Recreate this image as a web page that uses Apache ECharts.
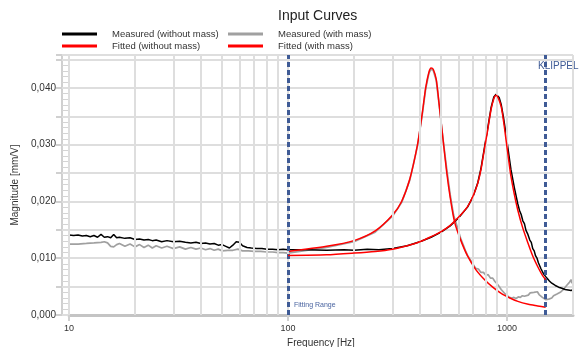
<!DOCTYPE html>
<html>
<head>
<meta charset="utf-8">
<script src="https://cdn.jsdelivr.net/npm/echarts@6/dist/echarts.min.js"></script>
<style>
  html, body { margin: 0; padding: 0; background: #fff; }
  #chart { width: 580px; height: 347px; }
</style>
</head>
<body>
<div id="chart"></div>
<script>
// values (mm/V over Hz)
const blackFreq = [
  10, 10.5, 11, 11.5, 12, 12.5, 13, 13.5, 14, 14.5, 15, 15.5, 16, 16.5, 17, 18, 19, 20, 21, 22,
  23, 24, 25, 26.5, 28, 30, 32, 34, 36, 38, 40, 42, 44, 46, 48, 50, 52, 54, 56, 58,
  60, 62, 65, 68, 72, 76, 80, 85, 90, 95,
  100, 120, 150, 180, 200, 230, 260, 300, 350, 400, 450, 500, 550, 600, 660, 700, 735, 760, 787, 815,
  845, 870, 891, 905, 920, 940, 965, 989, 1015, 1042, 1080,
  1119, 1140, 1160, 1180, 1200, 1220, 1245, 1270, 1290, 1310, 1330, 1350, 1370, 1390, 1410, 1430, 1450, 1470, 1500, 1520,
  1540, 1560, 1580, 1600, 1630, 1660, 1690, 1720, 1750, 1780, 1810, 1840, 1870, 1900, 1930, 1960, 2000
]
const blackVal = [
  .0141, .0140, .0141, .0139, .0140, .0138, .0140, .0137, .0142, .0137, .0138, .0136, .0142, .0136, .0137, .0135, .0136, .0133, .0134, .0132,
  .0133, .0131, .0132, .0129, .0131, .0129, .0130, .0128, .0127, .0128, .0126, .0127, .0125, .0126, .0123, .0124, .0121, .0118, .0123, .0129,
  .0128, .0122, .0119, .0118, .0117, .0117, .0116, .0116, .0115, .0116,
  .0115, .0115, .0114, .0115, .0114, .0116, .0115, .0117, .0122, .0129, .0137, .0146, .0157, .0171, .0190, .0209, .0233, .0258, .0293, .0328,
  .0365, .0384, .0389, .0388, .0383, .0371, .0346, .0318, .0287, .0256, .0224,
  .0196, .0184, .0177, .0166, .0161, .0149, .0142, .0132, .0128, .0117, .0113, .0104, .0100, .0092, .0089, .0081, .0080, .0072, .0070, .0065,
  .0064, .0060, .0060, .0056, .0057, .0052, .0052, .0049, .0050, .0047, .0049, .0045, .0048, .0044, .0047, .0043, .0045
]

const grayFreq = [
  10, 11, 12, 13, 14, 14.5, 15, 15.5, 16, 16.5, 17, 18, 19, 20, 21, 22, 23, 24, 25, 26.5,
  28, 30, 32, 34, 36, 38, 40, 42, 44, 46, 48, 50, 53, 56, 59, 62, 66, 70, 75, 80, 85, 90, 95,
  100, 150, 200, 250, 300, 330, 360, 390, 410, 425, 440, 450, 460, 475, 490, 510,
  530, 550, 570, 585, 600, 615, 630, 645, 660, 680, 700, 720, 740, 760, 780, 800, 820, 840, 860, 880,
  900, 920, 940, 960, 980, 1000, 1025, 1050, 1075, 1100, 1125, 1150, 1175, 1200, 1225, 1250, 1275, 1300, 1325, 1350,
  1375, 1400, 1425, 1450, 1475, 1500, 1525, 1550, 1575, 1600, 1630, 1660, 1690, 1720, 1750, 1780, 1810, 1840, 1870, 1900,
  1930, 1960, 1980, 2000
]
const grayVal = [
  .0125, .0125, .0126, .0127, .0128, .0129, .0127, .0121, .0120, .0124, .0126, .0121, .0125, .0120, .0124, .0119, .0123, .0118, .0122, .0118,
  .0121, .0117, .0120, .0116, .0119, .0116, .0118, .0115, .0117, .0114, .0116, .0113, .0114, .0114, .0116, .0113, .0113, .0112, .0112, .0111, .0111, .0110, .0110,
  .0109, .0119, .0129, .0146, .0174, .0198, .0238, .0298, .0353, .0398, .0426, .0433, .0431, .0413, .0369, .0310,
  .0258, .0212, .0176, .0162, .0148, .0134, .0124, .0114, .0105, .0097, .0089, .0082, .0081, .0075, .0075, .0070, .0071, .0065, .0065, .0059,
  .0055, .0050, .0045, .0041, .0037, .0034, .0031, .0030, .0031, .0029, .0032, .0031, .0034, .0033, .0036, .0035, .0039, .0037, .0040, .0038,
  .0041, .0036, .0035, .0031, .0030, .0027, .0029, .0028, .0031, .0030, .0034, .0033, .0037, .0036, .0040, .0039, .0045, .0047, .0052, .0050,
  .0058, .0062, .0056, .0066
]

const fitWithoutFreq = [
  100, 150, 200, 250, 300, 350, 400, 450, 500, 550, 600, 660, 700, 735, 760, 787, 815, 845, 870, 891,
  910, 940, 965, 989, 1015, 1042, 1080, 1119, 1180, 1245, 1310, 1381, 1440, 1500
]
const fitWithoutVal = [
  .0105, .0106, .0109, .0112, .0116, .0122, .0129, .0138, .0147, .0158, .0172, .0191, .0210, .0232, .0256, .0291, .0325, .0362, .0381, .0387,
  .0383, .0367, .0340, .0309, .0276, .0244, .0212, .0185, .0153, .0127, .0104, .0085, .0072, .0062
]

const fitWithFreq = [
  100, 150, 200, 250, 300, 330, 360, 390, 410, 425, 440, 450, 460, 475, 490, 510, 530, 550, 575, 610,
  660, 720, 790, 860, 940, 1030, 1120, 1250, 1380, 1500
]
const fitWithVal = [
  .0112, .0121, .0131, .0148, .0176, .0200, .0240, .0300, .0355, .0400, .0428, .0435, .0433, .0415, .0370, .0310, .0252, .0207, .0165, .0135,
  .0104, .0080, .0062, .0049, .0038, .0030, .0024, .0019, .0016, .00135
]

const decadeTicks = [10, 100, 1000]
const gridFreqs = [10, 20, 30, 40, 50, 60, 70, 80, 90, 100, 200, 300, 400, 500, 600, 700, 800, 900, 1000, 2000]
const fittingRange = [100, 1500]

const font = "'Liberation Sans', Arial, sans-serif"
const gridColor = '#dedede'
const blue = '#3f5b96'

const pairs = (fs, vs) => fs.map((f, i) => [f, vs[i]])

// y labels only every 0.010, comma decimal
const yLabel = v => {
  const k = Math.round(v * 1000)
  if (Math.abs(v * 1000 - k) > 0.01 || k % 10 !== 0) return ''
  return (k / 1000).toFixed(3).replace('.', ',')
}

const legendAt = (name, left, top) => ({
  data: [name],
  left,
  top,
  padding: 0,
  icon: 'rect',
  itemWidth: 35,
  itemHeight: 3,
  selectedMode: false,
  textStyle: { fontFamily: font, fontSize: 9.5, color: '#333', padding: [0, 0, 0, 10] }
})

const lineSeries = (name, data, color, width, z, smooth) => ({
  name,
  type: 'line',
  data,
  color,
  showSymbol: false,
  symbol: 'none',
  smooth: smooth || false,
  z,
  lineStyle: { color, width }
})

const chart = echarts.init(document.getElementById('chart'))

chart.setOption({
  animation: false,
  textStyle: { fontFamily: font },
  title: {
    text: 'Input Curves',
    left: 278,
    top: 9,
    padding: 0,
    textStyle: { fontFamily: font, fontSize: 14, fontWeight: 'normal', color: '#222' }
  },
  legend: [
    legendAt('Measured (without mass)', 62, 29),
    legendAt('Fitted (without mass)', 62, 41),
    legendAt('Measured (with mass)', 228, 29),
    legendAt('Fitted (with mass)', 228, 41)
  ],
  grid: { left: 69, right: 7, top: 55, bottom: 32, outerBoundsMode: 'none' },
  xAxis: {
    type: 'log',
    logBase: 10,
    min: 10,
    max: 2000,
    name: 'Frequency [Hz]',
    nameLocation: 'middle',
    nameGap: 21,
    nameTextStyle: { fontFamily: font, fontSize: 10, color: '#333' },
    axisLine: { lineStyle: { color: '#c4c4c4', width: 3 } },
    axisTick: { length: 6, customValues: decadeTicks, lineStyle: { color: '#d0d0d0', width: 2 } },
    axisLabel: {
      fontSize: 9,
      color: '#333',
      margin: 9,
      customValues: decadeTicks,
      formatter: v => String(Math.round(v))
    },
    splitLine: { show: false }
  },
  yAxis: [
    {
      type: 'value',
      min: 0,
      max: 0.0458,
      interval: 0.005,
      offset: 7,
      name: 'Magnitude [mm/V]',
      nameLocation: 'middle',
      nameGap: 37,
      nameTextStyle: { fontFamily: font, fontSize: 10, color: '#333' },
      axisLine: { show: true, lineStyle: { color: '#d0d0d0', width: 2 } },
      axisTick: { show: true, length: 6, lineStyle: { color: '#d0d0d0', width: 2 } },
      axisLabel: { formatter: yLabel, fontSize: 10, color: '#333', margin: 6 },
      splitLine: { lineStyle: { color: gridColor, width: 2 } }
    },
    {
      // strip of minor ticks between the axis line and the plot
      type: 'value',
      min: 0,
      max: 0.0458,
      interval: 0.005,
      offset: 7,
      position: 'left',
      axisLine: { show: false },
      axisLabel: { show: false },
      axisTick: { show: true, inside: true, length: 7, lineStyle: { color: gridColor, width: 2 } },
      minorTick: { show: true, splitNumber: 5, length: 6, lineStyle: { color: '#d4d4d4', width: 1 } },
      splitLine: { show: false }
    }
  ],
  graphic: [
    { type: 'text', left: 294, top: 302, style: { text: 'Fitting Range', fontFamily: font, fontSize: 7, fill: '#4a64a0' } },
    { type: 'text', left: 538, top: 61, style: { text: 'KLIPPEL', fontFamily: font, fontSize: 10, fill: blue } }
  ],
  series: [
    {
      type: 'line',
      data: [],
      z: 1,
      silent: true,
      markLine: {
        silent: true,
        symbol: ['none', 'none'],
        label: { show: false },
        lineStyle: { color: gridColor, width: 2, type: 'solid' },
        data: gridFreqs.map(f => ({ xAxis: f }))
      }
    },
    lineSeries('Measured (with mass)', pairs(grayFreq, grayVal), '#a0a0a0', 1.7, 2),
    lineSeries('Measured (without mass)', pairs(blackFreq, blackVal), '#000000', 1.5, 3),
    lineSeries('Fitted (with mass)', pairs(fitWithFreq, fitWithVal), '#ff0000', 1.5, 4, 0.25),
    lineSeries('Fitted (without mass)', pairs(fitWithoutFreq, fitWithoutVal), '#ff0000', 1.5, 5, 0.25),
    {
      type: 'line',
      data: [],
      z: 6,
      silent: true,
      markLine: {
        silent: true,
        symbol: ['none', 'none'],
        label: { show: false },
        lineStyle: { color: blue, width: 3, type: [5, 3] },
        data: fittingRange.map(f => ({ xAxis: f }))
      }
    }
  ]
})
</script>
</body>
</html>
